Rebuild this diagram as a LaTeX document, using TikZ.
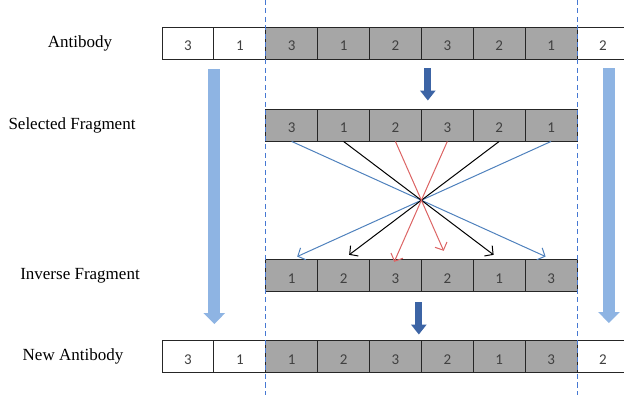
\documentclass[tikz,border=0pt]{standalone}
\usepackage{fontspec}
\setmainfont{Liberation Serif}
\newfontfamily\cellfont{Carlito}
\usetikzlibrary{arrows.meta}
\definecolor{fraggray}{RGB}{166,166,166}
\definecolor{lightarrow}{RGB}{142,180,227}
\definecolor{darkarrow}{RGB}{60,100,165}
\definecolor{guideblue}{RGB}{70,120,210}
\definecolor{crossblue}{RGB}{79,129,189}
\definecolor{crossred}{RGB}{220,100,100}
\tikzset{%
  cell/.style      = {shape=rectangle, draw=black!85, line width=0.9pt,%
                      minimum width=51.875pt, minimum height=32pt,%
                      inner sep=0pt, text height=16pt, text depth=0pt,%
                      font=\cellfont\fontsize{15}{18}\selectfont, text=black!75},%
  fragcell/.style  = {cell, fill=fraggray},%
  rowlabel/.style  = {font=\fontsize{17}{20}\selectfont},%
  bigarrow/.style  = {draw=lightarrow, line width=12pt,%
                      -{Triangle[length=11pt,width=21pt]}},%
  steparrow/.style = {draw=darkarrow, line width=7pt,%
                      -{Triangle[length=10pt,width=15pt]}},%
  guide/.style     = {color=guideblue, line width=1.1pt, dash pattern=on 5pt off 3.5pt},%
  cross/.style     = {line width=1pt, -{Straight Barb[length=6pt,width=13pt]}}%
}
\begin{document}
\begin{tikzpicture}[x=1pt,y=-1pt]
	\useasboundingbox (0,0) rectangle (624,395);
	\coordinate (top) at (0,0);
	\coordinate (bottom) at (0,395);
	% antibody
	\foreach \v [count=\i] in {3,1}
		\node[cell] (a\i) at ({136.0625+51.875*\i},43) {\v};
	\foreach \v [count=\i from 3] in {3,1,2,3,2,1}
		\node[fragcell] (a\i) at ({136.0625+51.875*\i},43) {\v};
	\node[cell] (a9) at ({136.0625+51.875*9},43) {2};
	% selected fragment
	\foreach \v [count=\k] in {3,1,2,3,2,1}
		\node[fragcell] (s\k) at ({239.8125+51.875*\k},125) {\v};
	% inverse fragment
	\foreach \v [count=\k] in {1,2,3,2,1,3}
		\node[fragcell] (i\k) at ({239.8125+51.875*\k},275.5) {\v};
	% new antibody
	\foreach \v [count=\i] in {3,1}
		\node[cell] (n\i) at ({136.0625+51.875*\i},356.5) {\v};
	\foreach \v [count=\i from 3] in {1,2,3,2,1,3}
		\node[fragcell] (n\i) at ({136.0625+51.875*\i},356.5) {\v};
	\node[cell] (n9) at ({136.0625+51.875*9},356.5) {2};
	% labels
	\node[rowlabel] (lab a) at (80,43) {Antibody};
	\node[rowlabel] (lab s) at (72,125) {Selected Fragment};
	\node[rowlabel] (lab i) at (80,275.5) {Inverse Fragment};
	\node[rowlabel] (lab n) at (73,356.5) {New Antibody};
	% guides
	\draw[guide] (a3.north west |- top) -- (a3.north west |- bottom);
	\draw[guide] (a8.north east |- top) -- (a8.north east |- bottom);
	% arrows
	\draw[bigarrow] ([yshift=-10pt]a1.south east) -- ([yshift=16pt]n1.north east);
	\draw[bigarrow] ([xshift=6pt,yshift=-9pt]a9.south) -- ([xshift=6pt,yshift=17pt]n9.north);
	\draw[steparrow] ([xshift=6pt,yshift=-9pt]a5.south east) -- ([xshift=6pt,yshift=8pt]s3.north east);
	\draw[steparrow] ([xshift=-3pt,yshift=-10.5pt]i3.south east) -- ([xshift=-3pt,yshift=5.5pt]n5.north east);
	\draw[cross,crossblue,shorten >=6pt] (s1.south) -- (i6.north);
	\draw[cross,crossblue,shorten >=6pt] (s6.south) -- (i1.north);
	\draw[cross,black,shorten >=7pt] (s2.south) -- (i5.north);
	\draw[cross,black,shorten >=7pt] (s5.south) -- (i2.north);
	\draw[cross,crossred,shorten >=9pt] (s3.south) -- (i4.north);
	\draw[cross,crossred,shorten >=-3pt] (s4.south) -- (i3.north);
\end{tikzpicture}
\end{document}
